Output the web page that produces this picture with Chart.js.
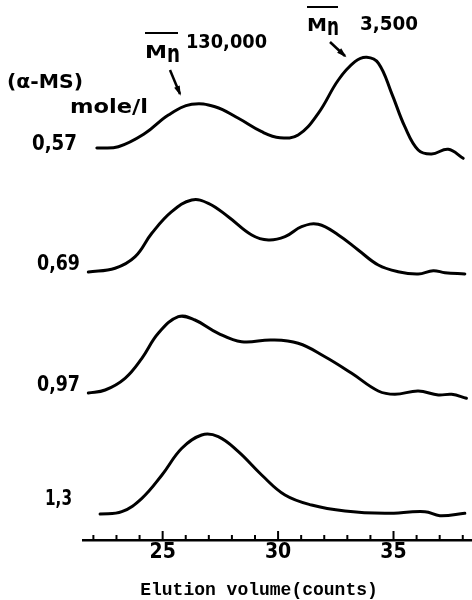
<!DOCTYPE html>
<html>
<head>
<meta charset="utf-8">
<script src="https://cdn.jsdelivr.net/npm/chart.js@4"></script>
<style>
body{margin:0;background:#fff;}
#wrap{position:relative;width:472px;height:600px;}
</style>
</head>
<body>
<div id="wrap"><canvas id="gpc"></canvas></div>
<script>
//data: elution volume (counts) and trace height above its own baseline

const conc = ['0,57','0,69','0,97','1,3'];
const offsets = [392,268,147,26];

const counts1 = [22.15,23.08,24.24,25.25,26.26,27.27,28.28,29.29,30.08,30.87,31.74,32.61,33.33,33.84,34.35,34.92,35.49,36.07,36.65,37.37,38.02];
const trace1 = [0,1.3,14.7,33,43.7,41.3,29.7,16.3,10.3,13,34.7,68,86.3,90.7,84.7,54.7,21.3,-2,-6,-1.3,-10.3];

const counts2 = [21.78,22.94,23.81,24.53,25.39,26.26,26.98,27.84,28.86,29.58,30.30,31.02,31.74,32.61,33.47,34.34,35.20,36.07,36.72,37.23,38.09];
const trace2 = [0,3.7,15.3,38.7,60.3,72,68.7,55.3,37,32,35.3,45.3,47.7,37,22,7,0.3,-2,1.3,-0.7,-2];

const counts3 = [21.78,22.51,23.37,24.10,24.81,25.68,26.40,27.41,28.42,29.72,30.87,32.03,33.19,34.34,35.06,36.07,36.94,37.52,38.16];
const trace3 = [0,3,14.7,34.7,59.7,76.3,73,59.7,51.3,53,49.7,36.3,19.7,2,-1.3,2,-2,-1.3,-5.3];

const counts4 = [22.29,23.23,24.10,24.97,25.83,26.69,27.41,28.28,29.29,30.30,31.45,32.90,34.63,36.36,37.01,38.09];
const trace4 = [0,2.3,15.7,39,65.7,79,77.3,62.3,39,19,9,3,0.7,2.3,-1.7,0.7];

const xMin = 21.55;
const xMax = 38.4;
const xTitle = 'Elution volume(counts)';

const allCounts = [counts1,counts2,counts3,counts4];
const allTraces = [trace1,trace2,trace3,trace4];

const sansFont = '"DejaVu Sans Condensed","DejaVu Sans",sans-serif';

//build datasets, each trace lifted by its offset
let datasets = [];
for(let i=0;i<allTraces.length;i++){
	let pts = [];
	for(let j=0;j<allTraces[i].length;j++){
		pts.push({x:allCounts[i][j], y:allTraces[i][j]+offsets[i]});
	}
	datasets.push({
		label:conc[i],
		data:pts,
		showLine:true,
		borderColor:'#000',
		borderWidth:3,
		pointRadius:0,
		tension:0.4,
		borderCapStyle:'round',
		borderJoinStyle:'round',
		clip:false
	});
}

//text stretched or squeezed to the width it has in the picture
function txt(ctx,s,x,y,size,w){
	ctx.font = 'bold '+size+'px '+sansFont;
	const m = ctx.measureText(s).width;
	ctx.save();
	ctx.translate(x,y);
	ctx.scale(w/m,1);
	ctx.fillText(s,0,0);
	ctx.restore();
}

function arrow(ctx,x1,y1,x2,y2){
	ctx.lineWidth = 2.5;
	ctx.beginPath();
	ctx.moveTo(x1,y1);
	ctx.lineTo(x2,y2);
	ctx.stroke();
	const a = Math.atan2(y2-y1,x2-x1);
	ctx.beginPath();
	ctx.moveTo(x2+Math.cos(a)*2,y2+Math.sin(a)*2);
	ctx.lineTo(x2-Math.cos(a)*8+Math.sin(a)*3,y2-Math.sin(a)*8-Math.cos(a)*3);
	ctx.lineTo(x2-Math.cos(a)*8-Math.sin(a)*3,y2-Math.sin(a)*8+Math.cos(a)*3);
	ctx.closePath();
	ctx.fill();
}

//tick marks above the axis line, labels and notes
const notes = {
	id:'notes',
	afterDraw(chart){
		const ctx = chart.ctx;
		const xs = chart.scales.x;
		const yAxis = chart.chartArea.bottom;
		ctx.save();
		ctx.strokeStyle = '#000';
		ctx.fillStyle = '#000';
		ctx.lineWidth = 2;
		for(let v=Math.ceil(xMin); v<=Math.floor(xMax); v++){
			const px = xs.getPixelForValue(v);
			ctx.beginPath();
			ctx.moveTo(px,yAxis);
			ctx.lineTo(px,yAxis-(v%5==0 ? 9 : 5));
			ctx.stroke();
		}

		ctx.textAlign = 'left';
		ctx.textBaseline = 'alphabetic';
		txt(ctx,conc[0],32,150,21,45);
		txt(ctx,conc[1],37,270,21,43);
		txt(ctx,conc[2],37,391,21,43);
		txt(ctx,conc[3],45,505,21,27);
		txt(ctx,'(α-MS)',7,88,20,76);
		txt(ctx,'mole/l',70,113,20,78);

		//Mn 130,000
		txt(ctx,'M',145,58,18,22);
		txt(ctx,'n',167,62,24,13);
		ctx.lineWidth = 2;
		ctx.beginPath();
		ctx.moveTo(145,33);
		ctx.lineTo(178,33);
		ctx.stroke();
		txt(ctx,'130,000',186,48,20,81);
		arrow(ctx,170,70,180,94);

		//Mn 3,500
		txt(ctx,'M',307,31,18,20);
		txt(ctx,'n',327,35,24,12);
		ctx.lineWidth = 2;
		ctx.beginPath();
		ctx.moveTo(307,7);
		ctx.lineTo(338,7);
		ctx.stroke();
		txt(ctx,'3,500',360,30,20,58);
		arrow(ctx,330,42,345,56);

		ctx.font = 'bold 18px "Liberation Mono","DejaVu Sans Mono",monospace';
		ctx.textAlign = 'center';
		ctx.fillText(xTitle,259,595,244);
		ctx.restore();
	}
};

let ctx1 = document.getElementById('gpc');

const gpcChart = new Chart(ctx1,{
	type:'scatter',
	data:{datasets:datasets},
	options:{
		responsive:true,
		maintainAspectRatio:false,
		animation:false,
		layout:{padding:{left:83,right:0,top:0,bottom:0}},
		plugins:{
			legend:{display:false},
			tooltip:{enabled:false}
		},
		scales:{
			x:{
				type:'linear',
				min:xMin,
				max:xMax,
				afterFit:function(scale){ scale.height = 60; },
				grid:{display:false,drawTicks:false,tickLength:0},
				border:{display:true,color:'#000',width:2.5},
				ticks:{
					stepSize:1,
					autoSkip:false,
					maxRotation:0,
					padding:0,
					color:'#000',
					font:{family:sansFont,size:21,weight:'bold'},
					callback:function(v){ return (Number.isInteger(v) && v%5==0) ? String(v) : ''; }
				}
			},
			y:{
				display:false,
				min:0,
				max:540
			}
		}
	},
	plugins:[notes]
});
</script>
</body>
</html>
